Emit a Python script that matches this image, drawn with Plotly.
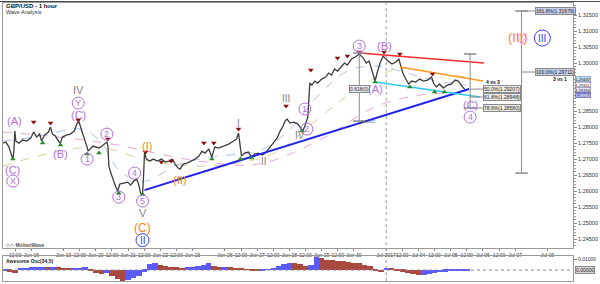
import plotly.graph_objects as go

# ---------------- data ----------------
# time in trading days since Jun-15 00:00 ; hourly close path
t_day = [0.123,0.215,0.307,0.368,0.429,0.460,0.491,0.521,0.613,0.736,0.859,0.982,1.074,1.166,1.258,1.319,1.411,1.534,1.595,1.656,
         1.748,1.840,1.902,1.963,2.086,2.209,2.331,2.423,2.485,2.546,2.607,2.669,2.730,2.761,2.822,2.914,3.006,3.098,3.190,3.282,
         3.344,3.374,3.405,3.466,3.528,3.620,3.681,3.742,3.865,3.988,4.080,4.172,4.264,4.325,4.387,4.448,4.479,4.509,4.571,4.663,
         4.785,4.908,5.031,5.153,5.276,5.368,5.460,5.552,5.613,5.706,5.828,5.951,6.074,6.196,6.288,6.380,6.503,6.595,6.687,6.810,
         6.963,7.117,7.270,7.362,7.423,7.454,7.515,7.607,7.730,7.822,7.914,8.037,8.160,8.252,8.344,8.436,8.528,8.620,8.712,8.804,
         8.865,8.926,9.018,9.141,9.264,9.356,9.417,9.479,9.571,9.601,9.632,9.693,9.785,9.877,10.000,10.123,10.215,10.307,10.399,10.491,
         10.613,10.706,10.798,10.920,11.043,11.166,11.288,11.380,11.472,11.564,11.626,11.656,11.718,11.810,11.902,11.963,12.055,12.178,12.301,12.393,
         12.454,12.515,12.607,12.699,12.791,12.914,13.037,13.160,13.282,13.405,13.466,13.558,13.650,13.773,13.896,14.018,14.141,14.233,14.325,14.417,
         14.479]
close = [1.27500,1.27531,1.27375,1.27188,1.27000,1.27250,1.27875,1.27563,1.27500,1.27594,1.27563,1.27656,1.27844,1.27688,1.27781,1.27563,1.27750,1.27844,1.28000,1.27781,
         1.27719,1.27563,1.27500,1.27688,1.27750,1.27781,1.27875,1.28125,1.28156,1.27938,1.27750,1.27625,1.27375,1.27250,1.27313,1.27406,1.27375,1.27344,1.27406,1.27500,
         1.27531,1.27406,1.26781,1.26563,1.26375,1.26125,1.26000,1.26219,1.26250,1.26281,1.26188,1.26313,1.26375,1.26219,1.25938,1.25906,1.26469,1.27188,1.27000,1.26938,
         1.27000,1.26938,1.27000,1.26906,1.26938,1.27000,1.26844,1.26719,1.26688,1.26844,1.26875,1.26938,1.27000,1.27094,1.27250,1.27188,1.27313,1.27063,1.27375,1.27344,
         1.27406,1.27469,1.27563,1.27625,1.27813,1.27563,1.27094,1.27188,1.27219,1.27063,1.27156,1.27188,1.27125,1.27188,1.27313,1.27406,1.27563,1.27656,1.27875,1.28031,
         1.28188,1.28250,1.28125,1.28156,1.28094,1.27969,1.27875,1.28031,1.28313,1.28813,1.29375,1.29313,1.29438,1.29375,1.29500,1.29563,1.29688,1.29625,1.29813,1.29750,
         1.29875,1.30000,1.29938,1.30125,1.30188,1.30281,1.30156,1.30000,1.30063,1.29750,1.29500,1.29438,1.29688,1.30000,1.30219,1.30156,1.30063,1.29969,1.30031,1.30125,
         1.29938,1.29688,1.29500,1.29344,1.29438,1.29406,1.29500,1.29438,1.29469,1.29563,1.29375,1.29250,1.29344,1.29219,1.29313,1.29344,1.29469,1.29438,1.29313,1.29188,
         1.29125]

# moving averages (dashed)
ma_fast_t = [0.123,1.288,2.515,3.129,3.742,4.509,5.583,6.810,8.037,8.957,9.877,10.798,11.718,12.638,13.558,14.479]
ma_fast = [1.27563,1.27719,1.27938,1.27563,1.26625,1.26313,1.26844,1.27094,1.27250,1.27875,1.28969,1.29750,1.29906,1.29688,1.29438,1.29313]
ma_mid_t = [0.123,1.595,3.129,4.663,6.196,7.730,8.650,9.877,11.104,12.331,13.558,14.479]
ma_mid = [1.26781,1.27188,1.27375,1.26938,1.26781,1.26938,1.27250,1.28250,1.29188,1.29813,1.29688,1.29563]
ma_slow_t = [0.123,3.129,6.196,8.037,9.877,11.718,13.251,14.479]
ma_slow = [1.27844,1.27531,1.26938,1.26844,1.27563,1.28656,1.29031,1.29031]

# fractal markers
hi_t = [1.074,1.595,2.454,3.374,4.540,5.031,5.337,6.350,6.656,7.423,8.896,9.663,10.491,10.798,11.166,11.933,12.423,13.436]
hi_p = [1.28156,1.28125,1.28219,1.27625,1.27219,1.26906,1.26938,1.27500,1.27500,1.27938,1.28656,1.29781,1.30156,1.30219,1.30344,1.30344,1.30281,1.29656]
lo_t = [0.429,1.350,1.902,2.730,3.098,3.712,4.448,5.583,6.595,7.485,7.822,9.387,11.656,12.730,13.497,13.804]
lo_p = [1.27000,1.27500,1.27438,1.27156,1.27188,1.25938,1.25906,1.26375,1.27000,1.27000,1.27031,1.27875,1.29406,1.29250,1.29094,1.29094]

# trend lines (start/end)
blue_t, blue_p = [4.509, 14.571], [1.26031, 1.29188]
red_t, red_p = [11.166, 15.031], [1.30313, 1.30000]
orange_t, orange_p = [12.423, 15.000], [1.29875, 1.29438]
cyan_t, cyan_p = [11.656, 14.908], [1.29406, 1.28938]

# fib tools
tool1_t, tool1_p = 11.166, [1.30313, 1.28188]
tool2_t, tool2_p = 14.601, [1.30281, 1.28594]
tool2_levels = [1.29188, 1.28938, 1.28594]
tool2_text = ["50.0%(1.29207)", "61.8%(1.28948)", "78.6%(1.28580)"]
tool3_t, tool3_p = 16.196, [1.31625, 1.26563]
tool3_levels = [1.31625, 1.29719]
tool3_text = ["161.8%(1.31679)", "100.0%(1.29711)"]

# axis ticks
tick_pos = [0.5,1,2,2.5,3,3.5,4,4.5,5,5.5,6,7,7.5,8,8.5,9,9.5,10,10.5,11,12,12.5,13,13.5,14,14.5,15,15.5,16,17]
tick_text = ["12:00","Jun-16","Jun-19","12:00","Jun-20","12:00","Jun-21","12:00","Jun-22","12:00","Jun-23","Jun-26","12:00",
             "Jun-27","12:00","Jun-28","12:00","Jun-29","12:00","Jun-30","Jul-2017","12:00","Jul-04","12:00","Jul-05","12:00",
             "Jul-06","12:00","Jul-07","Jul-09"]
price_ticks = [1.245,1.25,1.255,1.26,1.265,1.27,1.275,1.28,1.285,1.29,1.295,1.30,1.305,1.31,1.315]
# labels hidden behind the price flags in the reference
price_tick_text = ["" if v in (1.29, 1.295) else "%.5f" % v for v in price_ticks]

# Awesome oscillator, one value every 4 hours
ao = [-0.0014,-0.0018,-0.0027,0.0009,0.0018,0.0023,0.0027,0.0027,0.0023,0.0027,0.0023,0.0018,0.0009,0.0009,0.0018,0.0027,
      -0.0009,-0.0027,-0.0036,-0.0027,-0.0055,-0.0082,-0.0098,-0.0091,-0.0073,-0.0055,-0.0018,0.0055,0.0064,0.0045,0.0036,0.0027,
      0.0023,0.0018,0.0023,0.0027,0.0036,0.0045,0.0059,0.0036,0.0027,0.0027,0.0023,0.0018,0.0014,0.0005,-0.0009,-0.0014,-0.0009,
      0.0005,0.0014,0.0032,0.0050,0.0068,0.0064,0.0050,0.0036,0.0041,0.0114,0.0105,0.0095,0.0091,0.0086,0.0082,0.0073,0.0064,
      0.0059,0.0045,0.0032,-0.0009,-0.0023,0.0018,0.0014,-0.0003,-0.0018,-0.0032,-0.0036,-0.0045,-0.0045,-0.0036,-0.0027,-0.0023,
      -0.0018,-0.0014,-0.0009,-0.0005,-0.0003]
ao_t = [(i + 1) / 6 for i in range(len(ao))]

# right-axis price flags
flag_p = [1.29500, 1.29313, 1.29156, 1.29000]
flag_text = ["1.29437", "1.29311", "1.29194", "1.28960"]
flag_bg = ["#bfe6f5", "#ffffff", "#e6e6ff", "#7a7ad6"]
flag_fg = ["#000000", "#000000", "#000000", "#ffffff"]

FONT = "Liberation Sans"
PURPLE = "#b36ee0"
GRAY = "#858585"
ORANGE = "#ff7f27"
BLUE = "#3b3bff"

fig = go.Figure()

# MAs
fig.add_trace(go.Scatter(x=ma_slow_t, y=ma_slow, mode="lines", line=dict(color="#e8a6d6", width=1, dash="dash", shape="spline"), hoverinfo="skip"))
fig.add_trace(go.Scatter(x=ma_mid_t, y=ma_mid, mode="lines", line=dict(color="#d9cf96", width=1, dash="dash", shape="spline"), hoverinfo="skip"))
fig.add_trace(go.Scatter(x=ma_fast_t, y=ma_fast, mode="lines", line=dict(color="#a8c4f0", width=1, dash="dash", shape="spline"), hoverinfo="skip"))

# price
fig.add_trace(go.Scatter(x=t_day, y=close, mode="lines", line=dict(color="#3c3c3c", width=1.3), hoverinfo="skip"))

# trend lines
for tt, pp, col, w in [(blue_t, blue_p, "#2222ee", 2), (red_t, red_p, "#ff2a2a", 1.6),
                       (orange_t, orange_p, "#ff9a1f", 1.6), (cyan_t, cyan_p, "#2fc8ee", 1.6)]:
    fig.add_trace(go.Scatter(x=tt, y=pp, mode="lines", line=dict(color=col, width=w), hoverinfo="skip"))

# fractal markers
fig.add_trace(go.Scatter(x=hi_t, y=hi_p, mode="markers", marker=dict(symbol="triangle-down", size=5, color="#8b1010"), hoverinfo="skip"))
fig.add_trace(go.Scatter(x=lo_t, y=lo_p, mode="markers", marker=dict(symbol="triangle-up", size=5, color="#2a8a2a"), hoverinfo="skip"))

# fib tool verticals
for tt, pp in [(tool1_t, tool1_p), (tool2_t, tool2_p), (tool3_t, tool3_p)]:
    fig.add_trace(go.Scatter(x=[tt, tt], y=pp, mode="lines+markers", line=dict(color="#8c8c8c", width=1),
                             marker=dict(symbol="line-ew-open", size=9, line=dict(color="#555555", width=1.5)),
                             hoverinfo="skip"))
for lv in tool2_levels:
    fig.add_trace(go.Scatter(x=[tool2_t, tool2_t + 0.58], y=[lv, lv], mode="lines", line=dict(color="#8c8c8c", width=1), hoverinfo="skip"))
for lv in tool3_levels:
    fig.add_trace(go.Scatter(x=[tool3_t, 17.70], y=[lv, lv], mode="lines", line=dict(color="#8c8c8c", width=1), hoverinfo="skip"))
# arrow head on the big projection line
fig.add_trace(go.Scatter(x=[tool3_t], y=[1.30563], mode="markers",
                         marker=dict(symbol="arrow-down-open", size=10, line=dict(color="#777777", width=1)), hoverinfo="skip"))

# AO histogram
ao_col = []
for i, v in enumerate(ao):
    prev = ao[i - 1] if i > 0 else v
    ao_col.append("#5a5aff" if v >= prev else "#a84a40")
fig.add_trace(go.Bar(x=ao_t, y=ao, marker=dict(color=ao_col, line=dict(width=0)), width=1 / 6,
                     xaxis="x2", yaxis="y2", hoverinfo="skip"))

annotations = []
shapes = []

def lab(t, p, text, color, size, circle=None, bold=False):
    annotations.append(dict(x=t, y=p, xref="x", yref="y", text=("<b>%s</b>" % text) if bold else text,
                            showarrow=False, font=dict(family=FONT, size=size, color=color),
                            xanchor="center", yanchor="middle"))
    if circle:
        shapes.append(dict(type="circle", xref="x", yref="y", xsizemode="pixel", ysizemode="pixel",
                           xanchor=t, yanchor=p, x0=-circle, x1=circle, y0=-circle, y1=circle,
                           line=dict(color=color, width=1)))

lab(0.491, 1.28188, "(A)", PURPLE, 11)
lab(0.429, 1.26656, "(C)", PURPLE, 11)
lab(0.429, 1.26313, "X", PURPLE, 9, circle=6)
lab(1.902, 1.27156, "(B)", PURPLE, 11)
lab(2.454, 1.29156, "IV", GRAY, 11)
lab(2.454, 1.28750, "Y", PURPLE, 9, circle=6)
lab(2.454, 1.28375, "(C)", PURPLE, 11)
lab(2.730, 1.27000, "1", PURPLE, 9, circle=6)
lab(3.344, 1.27781, "2", PURPLE, 9, circle=6)
lab(3.712, 1.25813, "3", PURPLE, 9, circle=6)
lab(4.202, 1.26563, "4", PURPLE, 9, circle=6)
lab(4.448, 1.25688, "5", PURPLE, 9, circle=6)
lab(4.448, 1.25313, "V", GRAY, 11)
lab(4.448, 1.24844, "(C)", ORANGE, 12)
lab(4.448, 1.24469, "II", BLUE, 10, circle=6.5)
lab(4.571, 1.27406, "(I)", ORANGE, 11)
lab(5.583, 1.26344, "(II)", ORANGE, 11)
lab(7.423, 1.28125, "I", GRAY, 10)
lab(8.221, 1.26938, "II", GRAY, 10)
lab(8.896, 1.28906, "III", GRAY, 10)
lab(9.325, 1.27750, "IV", GRAY, 10)
lab(9.479, 1.28563, "1", PURPLE, 9, circle=6)
lab(9.540, 1.27938, "2", PURPLE, 9, circle=6)
lab(11.166, 1.30531, "3", PURPLE, 9, circle=6)
lab(11.933, 1.30531, "(B)", PURPLE, 11)
lab(11.656, 1.29188, "(A)", PURPLE, 11)
lab(14.601, 1.28688, "(C)", PURPLE, 11)
lab(14.601, 1.28313, "4", PURPLE, 9, circle=6)
lab(16.074, 1.30813, "(III)", ORANGE, 13)
lab(16.840, 1.30781, "III", BLUE, 10, circle=8)

# fib labels
def box(t, p, text, bg):
    annotations.append(dict(x=t, y=p, xref="x", yref="y", text=text, showarrow=False,
                            font=dict(family=FONT, size=5, color="#222222"), bgcolor=bg,
                            bordercolor="#8a8a8a", borderwidth=1, borderpad=0, xanchor="center", yanchor="middle"))
for lv, tx in zip(tool2_levels, tool2_text):
    box(15.58, lv, tx, "#ececec")
for lv, tx in zip(tool3_levels, tool3_text):
    box(17.24, lv, tx, "#c9cfe8")
box(11.166, 1.29188, "0.618(0)", "#ececec")
annotations.append(dict(x=11.44, y=1.28188, text="1.28111", showarrow=False, xanchor="center", yanchor="middle",
                        font=dict(family=FONT, size=4, color="#444444")))
annotations.append(dict(x=15.03, y=1.29406, text="<b>4 vs 3</b>", showarrow=False, xanchor="left", yanchor="middle",
                        font=dict(family=FONT, size=5, color="#111111")))
annotations.append(dict(x=17.68, y=1.29500, text="<b>3 vs 1</b>", showarrow=False, xanchor="right", yanchor="middle",
                        font=dict(family=FONT, size=5, color="#111111")))

# price flags on right axis
for p, tx, bg, fg in zip(flag_p, flag_text, flag_bg, flag_fg):
    annotations.append(dict(x=1.004, y=p, xref="paper", yref="y", text=tx, showarrow=False, xanchor="left",
                            yanchor="middle", bgcolor=bg, bordercolor="#6a6a9a", borderwidth=0.5, borderpad=0,
                            font=dict(family=FONT, size=4, color=fg)))
annotations.append(dict(x=1.004, y=0, xref="paper", yref="y2", text="0.00000", showarrow=False, xanchor="left",
                        yanchor="middle", bgcolor="#d8d8d8", bordercolor="#888888", borderwidth=1, borderpad=0,
                        font=dict(family=FONT, size=5, color="#222222")))

# header texts
annotations += [
    dict(x=0.002, y=0.990, xref="paper", yref="paper", text="<b>GBP/USD - 1 hour</b>", showarrow=False,
         xanchor="left", yanchor="middle", font=dict(family=FONT, size=6, color="#111111")),
    dict(x=0.002, y=0.968, xref="paper", yref="paper", text="Wave Analysis", showarrow=False,
         xanchor="left", yanchor="middle", font=dict(family=FONT, size=5.5, color="#333333")),
    dict(x=0.002, y=0.130, xref="paper", yref="paper", text="◇◇ <b>MoltenWave</b>", showarrow=False,
         xanchor="left", yanchor="middle", font=dict(family=FONT, size=5, color="#555555")),
    dict(x=0.002, y=0.072, xref="paper", yref="paper", text="<b>Awesome Osc(34,5)</b>", showarrow=False,
         xanchor="left", yanchor="middle", font=dict(family=FONT, size=5, color="#222222")),
]

# month separator + top bar + AO zero line
shapes.append(dict(type="line", xref="x", yref="paper", x0=12, x1=12, y0=0, y1=1,
                   line=dict(color="#9a9a9a", width=1, dash="dot")))
shapes.append(dict(type="line", xref="paper", yref="y2", x0=0, x1=1, y0=0, y1=0,
                   line=dict(color="#888888", width=1, dash="dot")))
shapes.append(dict(type="rect", xref="paper", yref="paper", x0=-0.01, x1=1.05, y0=1.0036, y1=1.0075,
                   fillcolor="#4a4a4a", line=dict(width=0)))

fig.update_layout(
    width=600, height=284, margin=dict(l=2, r=22, t=2, b=3),
    paper_bgcolor="white", plot_bgcolor="white", showlegend=False, bargap=0,
    font=dict(family=FONT, size=5, color="#222222"),
    xaxis=dict(domain=[0, 1], range=[0.123, 17.79], anchor="y", tickvals=tick_pos, ticktext=tick_text,
               tickfont=dict(size=5, color="#333333"), tickangle=0, ticks="outside", ticklen=2, tickcolor="#888888",
               showline=True, mirror=True, linecolor="#9a9a9a", showgrid=False, zeroline=False),
    yaxis=dict(domain=[0.1183, 1], range=[1.2422, 1.31875], side="right", tickvals=price_ticks,
               ticktext=price_tick_text, tickfont=dict(size=5.5, color="#333333"),
               ticks="outside", ticklen=3, tickcolor="#888888",
               minor=dict(dtick=0.001, ticks="outside", ticklen=1.5, tickcolor="#999999", showgrid=False),
               showline=True, mirror=True, linecolor="#9a9a9a", showgrid=False, zeroline=False),
    xaxis2=dict(domain=[0, 1], range=[0.123, 17.79], anchor="y2", matches="x", showticklabels=False,
                showline=True, mirror=True, linecolor="#9a9a9a", showgrid=False, zeroline=False),
    yaxis2=dict(domain=[0, 0.0896], range=[-0.0100, 0.01273], side="right", anchor="x2", tickvals=[0.01],
                ticktext=["0.01000"], tickfont=dict(size=5, color="#333333"), ticks="outside", ticklen=3,
                tickcolor="#888888", showline=True, mirror=True, linecolor="#9a9a9a", showgrid=False, zeroline=False),
    annotations=annotations, shapes=shapes,
)

fig.write_html("out.html")
